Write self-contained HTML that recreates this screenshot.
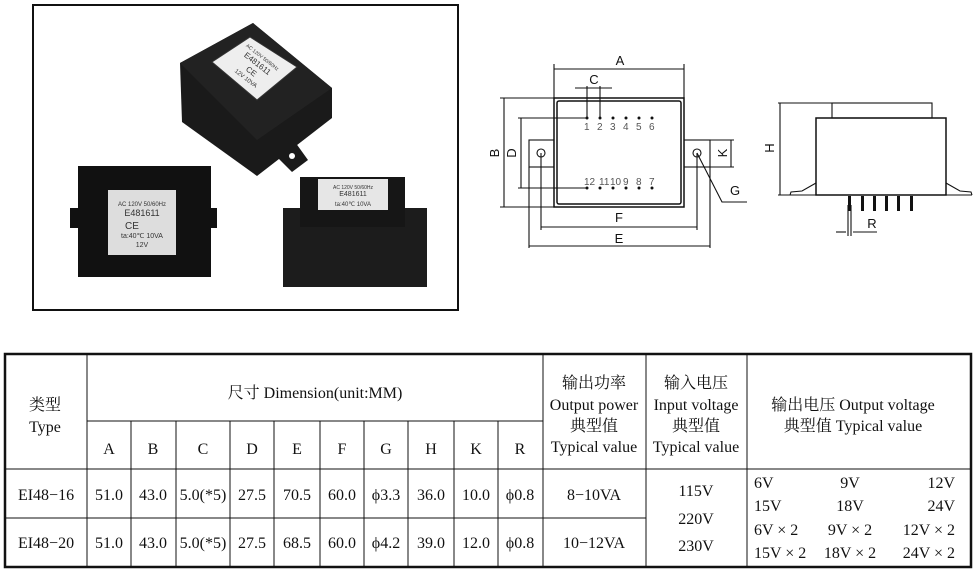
<!DOCTYPE html>
<html><head><meta charset="utf-8"><style>
html,body{margin:0;padding:0;background:#fff;}
svg{display:block;}
.t{font-family:"Liberation Serif","Noto Serif CJK SC",serif;font-size:16px;fill:#111;}
.d{font-family:"Liberation Sans",sans-serif;font-size:13px;fill:#111;}
.p{font-family:"Liberation Sans",sans-serif;font-size:10px;fill:#555;}
</style></head><body>
<svg width="977" height="573" viewBox="0 0 977 573" xmlns="http://www.w3.org/2000/svg">
<rect x="33" y="5" width="425" height="305" fill="#fff" stroke="#111" stroke-width="2"/>
<!-- top transformer -->
<polygon points="180,63 253,23 332,88 332,118 257,176 182,122" fill="#1a1a1a"/>
<polygon points="180,63 253,23 332,88 257,140" fill="#222"/>
<polygon points="212,62 250,37 297,67 257,100" fill="#eee" stroke="#333"/>
<g transform="translate(254,68) rotate(38)" style="font-family:'Liberation Sans';fill:#333" text-anchor="middle">
<text y="-12" style="font-size:5px">AC 120V 50/60Hz</text>
<text y="-3" style="font-size:8px">E481611</text>
<text y="7" style="font-size:8px">CE</text>
<text y="15" style="font-size:6px">12V 10VA</text>
</g>
<polygon points="270,150 290,135 308,160 292,172" fill="#1a1a1a"/>
<circle cx="292" cy="156" r="3" fill="#fff"/>
<!-- left transformer -->
<rect x="70" y="208" width="10" height="20" fill="#111"/>
<rect x="207" y="208" width="10" height="20" fill="#111"/>
<rect x="78" y="166" width="133" height="111" fill="#111"/>
<rect x="108" y="190" width="68" height="65" fill="#ddd"/>
<text x="142" y="206" text-anchor="middle" style="font-family:'Liberation Sans';font-size:6px;fill:#333">AC 120V 50/60Hz</text>
<text x="142" y="216" text-anchor="middle" style="font-family:'Liberation Sans';font-size:9px;fill:#333">E481611</text>
<text x="132" y="229" text-anchor="middle" style="font-family:'Liberation Sans';font-size:10px;fill:#333">CE</text>
<text x="142" y="238" text-anchor="middle" style="font-family:'Liberation Sans';font-size:7px;fill:#333">ta:40℃ 10VA</text>
<text x="142" y="247" text-anchor="middle" style="font-family:'Liberation Sans';font-size:7px;fill:#333">12V</text>
<!-- right transformer -->
<rect x="283" y="208" width="144" height="79" fill="#1c1c1c"/>
<rect x="300" y="177" width="105" height="50" fill="#161616"/>
<rect x="318" y="179" width="70" height="31" fill="#e6e6e6"/>
<text x="353" y="189" text-anchor="middle" style="font-family:'Liberation Sans';font-size:5px;fill:#333">AC 120V 50/60Hz</text>
<text x="353" y="196" text-anchor="middle" style="font-family:'Liberation Sans';font-size:7px;fill:#333">E481611</text>
<text x="353" y="206" text-anchor="middle" style="font-family:'Liberation Sans';font-size:6px;fill:#333">ta:40℃ 10VA</text>

<g stroke="#111" fill="none" stroke-width="1.1">
<rect x="529" y="140" width="25" height="27"/>
<rect x="684" y="140" width="26" height="27"/>
<rect x="554" y="98" width="130" height="109" fill="#fff" stroke-width="1.5"/>
<rect x="557" y="101" width="124" height="103" rx="2" stroke-width="1.5"/>
<circle cx="541" cy="153" r="4"/>
<circle cx="697" cy="153" r="4"/>
<line x1="554" y1="64" x2="554" y2="98"/><line x1="684" y1="64" x2="684" y2="98"/>
<line x1="554" y1="69" x2="684" y2="69"/>
<line x1="587" y1="86" x2="587" y2="118"/><line x1="600" y1="86" x2="600" y2="118"/>
<line x1="575" y1="88" x2="612" y2="88"/>
<line x1="500" y1="98" x2="554" y2="98"/><line x1="500" y1="207" x2="554" y2="207"/>
<line x1="504" y1="98" x2="504" y2="207"/>
<line x1="518" y1="118" x2="587" y2="118"/><line x1="518" y1="188" x2="587" y2="188"/>
<line x1="521" y1="118" x2="521" y2="188"/>
<line x1="710" y1="140" x2="734" y2="140"/><line x1="710" y1="167" x2="734" y2="167"/>
<line x1="731" y1="140" x2="731" y2="167"/>
<polyline points="697,153 722,202 747,202"/>
<line x1="541" y1="153" x2="541" y2="230"/><line x1="697" y1="153" x2="697" y2="230"/>
<line x1="541" y1="227" x2="697" y2="227"/>
<line x1="529" y1="167" x2="529" y2="248"/><line x1="710" y1="167" x2="710" y2="248"/>
<line x1="529" y1="246" x2="710" y2="246"/>
</g>
<g fill="#111">
<circle cx="587" cy="118" r="1.5"/><circle cx="600" cy="118" r="1.5"/><circle cx="613" cy="118" r="1.5"/><circle cx="626" cy="118" r="1.5"/><circle cx="639" cy="118" r="1.5"/><circle cx="652" cy="118" r="1.5"/>
<circle cx="587" cy="188" r="1.5"/><circle cx="600" cy="188" r="1.5"/><circle cx="613" cy="188" r="1.5"/><circle cx="626" cy="188" r="1.5"/><circle cx="639" cy="188" r="1.5"/><circle cx="652" cy="188" r="1.5"/>
</g>
<text class="p" x="584" y="130">1</text><text class="p" x="597" y="130">2</text><text class="p" x="610" y="130">3</text><text class="p" x="623" y="130">4</text><text class="p" x="636" y="130">5</text><text class="p" x="649" y="130">6</text>
<text class="p" x="584" y="185">12</text><text class="p" x="599" y="185">11</text><text class="p" x="610" y="185">10</text><text class="p" x="623" y="185">9</text><text class="p" x="636" y="185">8</text><text class="p" x="649" y="185">7</text>
<text class="d" x="620" y="65" text-anchor="middle">A</text>
<text class="d" x="594" y="84" text-anchor="middle">C</text>
<text class="d" x="735" y="195" text-anchor="middle">G</text>
<text class="d" x="619" y="222" text-anchor="middle">F</text>
<text class="d" x="619" y="243" text-anchor="middle">E</text>
<text class="d" transform="translate(499,153) rotate(-90)" text-anchor="middle">B</text>
<text class="d" transform="translate(516,153) rotate(-90)" text-anchor="middle">D</text>
<text class="d" transform="translate(727,153) rotate(-90)" text-anchor="middle">K</text>

<g stroke="#111" fill="none" stroke-width="1.1">
<rect x="832" y="103" width="100" height="15"/>
<rect x="816" y="118" width="130" height="77" stroke-width="1.5"/>
<polyline points="790,195 791,192 802,191 816,183"/>
<polyline points="946,183 960,191 971,192 972,195"/>
<line x1="778" y1="195" x2="972" y2="195"/>
<line x1="778" y1="103" x2="832" y2="103"/>
<line x1="780" y1="103" x2="780" y2="195"/>
<line x1="848" y1="205" x2="848" y2="236"/><line x1="851" y1="205" x2="851" y2="236"/>
<line x1="836" y1="232" x2="846" y2="232"/><line x1="853" y1="232" x2="877" y2="232"/>
</g>
<g fill="#111">
<rect x="848" y="196" width="3" height="15"/><rect x="861" y="196" width="3" height="15"/><rect x="873" y="196" width="3" height="15"/><rect x="885" y="196" width="3" height="15"/><rect x="897" y="196" width="3" height="15"/><rect x="910" y="196" width="3" height="15"/>
</g>
<text class="d" transform="translate(774,148) rotate(-90)" text-anchor="middle">H</text>
<text class="d" x="872" y="228" text-anchor="middle">R</text>

<g stroke="#111" fill="none" stroke-width="1">
<rect x="5" y="354" width="966" height="213" stroke-width="2.5"/>
<line x1="87" y1="421" x2="543" y2="421"/>
<line x1="5" y1="469" x2="971" y2="469"/>
<line x1="5" y1="518" x2="646" y2="518"/>
<line x1="87" y1="354" x2="87" y2="567"/>
<line x1="131" y1="421" x2="131" y2="567"/><line x1="176" y1="421" x2="176" y2="567"/><line x1="230" y1="421" x2="230" y2="567"/><line x1="274" y1="421" x2="274" y2="567"/><line x1="320" y1="421" x2="320" y2="567"/><line x1="364" y1="421" x2="364" y2="567"/><line x1="408" y1="421" x2="408" y2="567"/><line x1="454" y1="421" x2="454" y2="567"/><line x1="498" y1="421" x2="498" y2="567"/>
<line x1="543" y1="354" x2="543" y2="567"/><line x1="646" y1="354" x2="646" y2="567"/><line x1="747" y1="354" x2="747" y2="567"/>
</g>
<g class="t" text-anchor="middle">
<text x="45" y="410">类型</text><text x="45" y="432">Type</text>
<text x="315" y="398">尺寸 Dimension(unit:MM)</text>
<text x="109" y="454">A</text><text x="153" y="454">B</text><text x="203" y="454">C</text><text x="252" y="454">D</text><text x="297" y="454">E</text><text x="342" y="454">F</text><text x="386" y="454">G</text><text x="431" y="454">H</text><text x="476" y="454">K</text><text x="520" y="454">R</text>
<text x="46" y="500">EI48−16</text><text x="109" y="500">51.0</text><text x="153" y="500">43.0</text><text x="203" y="500">5.0(*5)</text><text x="252" y="500">27.5</text><text x="297" y="500">70.5</text><text x="342" y="500">60.0</text><text x="386" y="500">ϕ3.3</text><text x="431" y="500">36.0</text><text x="476" y="500">10.0</text><text x="520" y="500">ϕ0.8</text>
<text x="46" y="548">EI48−20</text><text x="109" y="548">51.0</text><text x="153" y="548">43.0</text><text x="203" y="548">5.0(*5)</text><text x="252" y="548">27.5</text><text x="297" y="548">68.5</text><text x="342" y="548">60.0</text><text x="386" y="548">ϕ4.2</text><text x="431" y="548">39.0</text><text x="476" y="548">12.0</text><text x="520" y="548">ϕ0.8</text>
<text x="594" y="388">输出功率</text><text x="594" y="410">Output power</text><text x="594" y="431">典型值</text><text x="594" y="452">Typical value</text>
<text x="696" y="388">输入电压</text><text x="696" y="410">Input voltage</text><text x="696" y="431">典型值</text><text x="696" y="452">Typical value</text>
<text x="853" y="410">输出电压 Output voltage</text><text x="853" y="431">典型值 Typical value</text>
<text x="594" y="500">8−10VA</text><text x="594" y="548">10−12VA</text>
<text x="696" y="496">115V</text><text x="696" y="524">220V</text><text x="696" y="551">230V</text>
<text x="850" y="488">9V</text><text x="850" y="511">18V</text><text x="850" y="535">9V × 2</text><text x="850" y="558">18V × 2</text>
</g>
<g class="t">
<text x="754" y="488">6V</text><text x="754" y="511">15V</text><text x="754" y="535">6V × 2</text><text x="754" y="558">15V × 2</text>
</g>
<g class="t" text-anchor="end">
<text x="955" y="488">12V</text><text x="955" y="511">24V</text><text x="955" y="535">12V × 2</text><text x="955" y="558">24V × 2</text>
</g>
</svg>
</body></html>
